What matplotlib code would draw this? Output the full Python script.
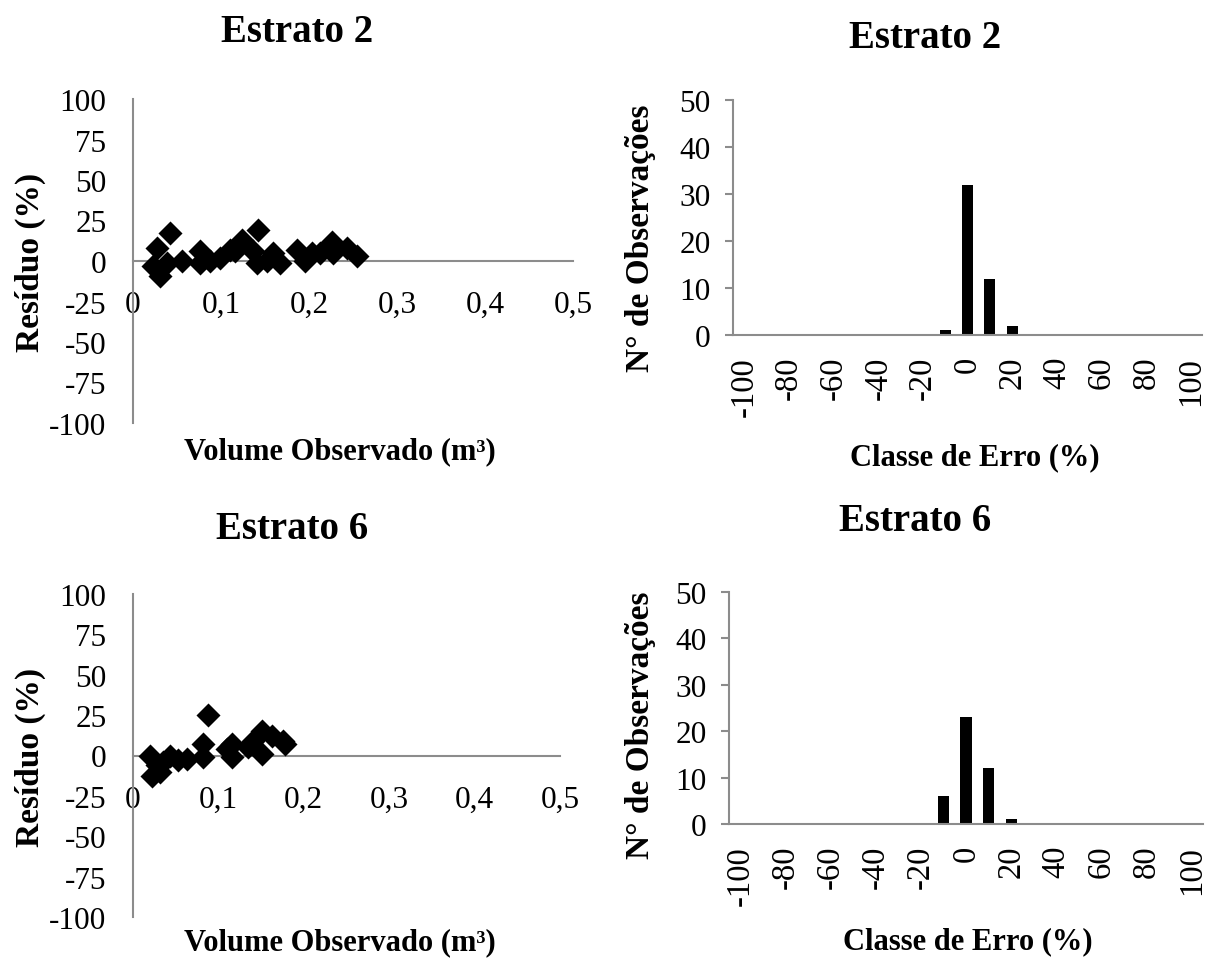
import numpy as np
import matplotlib
matplotlib.use("Agg")
import matplotlib.pyplot as plt

plt.rcParams['font.family'] = ['Liberation Serif', 'DejaVu Serif']
plt.rcParams['axes.unicode_minus'] = False

# residuals - Estrato 2
vol_e2 = [0.023, 0.027, 0.031, 0.039, 0.042, 0.056, 0.076, 0.076, 0.088, 0.099,
          0.110, 0.116, 0.124, 0.136, 0.141, 0.142, 0.152, 0.159, 0.167, 0.186,
          0.195, 0.203, 0.212, 0.226, 0.227, 0.243, 0.255]
res_e2 = [-3, 8, -9, -1, 17, 0, 6, -1, 0, 2,
          7, 6, 13, 6, -1, 19, 0, 5, -1, 7,
          0, 5, 5, 12, 5, 8, 3]

# residuals - Estrato 6
vol_e6 = [0.020, 0.022, 0.028, 0.032, 0.035, 0.043, 0.053, 0.063, 0.082, 0.082,
          0.088, 0.110, 0.116, 0.116, 0.135, 0.141, 0.151, 0.151, 0.163, 0.176, 0.178]
res_e6 = [0, -13, -6, -10, -4, 0, -3, -2, 7, -1,
          25, 4, 7, -1, 5, 9, 1, 15, 12, 9, 7]

# error classes
classes = list(range(-100, 101, 10))
cnt_e2 = [0]*9 + [1, 32, 12, 2] + [0]*8
cnt_e6 = [0]*9 + [6, 23, 12, 1] + [0]*8

gray = '#8c8c8c'
W, H = 1216, 962
fig = plt.figure(figsize=(W/100, H/100), dpi=100)


def rect(l, r, t, b):
    return [l/W, 1 - b/H, (r - l)/W, (b - t)/H]


def scatter_panel(box, x, y):
    ax = fig.add_axes(rect(*box))
    ax.scatter(x, y, marker='D', s=150, color='black', zorder=3, linewidths=0)
    ax.set_xlim(0, 0.5)
    ax.set_ylim(-100, 100)
    ax.spines['top'].set_visible(False)
    ax.spines['right'].set_visible(False)
    ax.spines['bottom'].set_position(('data', 0))
    for s in ['left', 'bottom']:
        ax.spines[s].set_color(gray)
        ax.spines[s].set_linewidth(1.5)
    ax.set_yticks(np.arange(-100, 101, 25))
    ax.set_xticks(np.arange(0, 0.51, 0.1))
    ax.set_xticklabels(['0', '0,1', '0,2', '0,3', '0,4', '0,5'])
    ax.tick_params(axis='y', length=0, pad=19, labelsize=22.5)
    ax.tick_params(axis='x', length=0, pad=21, labelsize=22.5)
    return ax


def hist_panel(box, counts):
    ax = fig.add_axes(rect(*box))
    pos = np.arange(len(classes))
    ax.bar(pos, counts, width=0.5, color='black')
    ax.set_xlim(-0.5, len(classes) - 0.5)
    ax.set_ylim(0, 50)
    ax.set_yticks(range(0, 51, 10))
    ax.set_xticks(pos[::2])
    ax.set_xticklabels([str(c) for c in classes[::2]], rotation=90, va='top')
    ax.spines['top'].set_visible(False)
    ax.spines['right'].set_visible(False)
    for s in ['left', 'bottom']:
        ax.spines[s].set_color(gray)
        ax.spines[s].set_linewidth(1.5)
    ax.tick_params(axis='y', length=6, width=1.5, color=gray, pad=10, labelsize=22.5)
    ax.tick_params(axis='x', length=0, pad=15, labelsize=23.5)
    return ax


scatter_panel((133, 573, 100, 424), vol_e2, res_e2)
hist_panel((733, 1202, 101, 336), cnt_e2)
scatter_panel((133, 560, 595, 918), vol_e6, res_e6)
hist_panel((729, 1203, 593, 825), cnt_e6)

tkw = dict(fontsize=28, fontweight='bold', ha='center', va='center')
fig.text(297/W, 1 - 32/H, 'Estrato 2', **tkw)
fig.text(925/W, 1 - 38/H, 'Estrato 2', **tkw)
fig.text(292/W, 1 - 530/H, 'Estrato 6', **tkw)
fig.text(915/W, 1 - 522/H, 'Estrato 6', **tkw)

xkw = dict(fontsize=22, fontweight='bold', ha='center', va='center')
ykw = dict(fontsize=24, fontweight='bold', ha='center', va='center', rotation=90)
fig.text(340/W, 1 - 452/H, 'Volume Observado (m³)', **xkw)
fig.text(340/W, 1 - 943/H, 'Volume Observado (m³)', **xkw)
fig.text(975/W, 1 - 458/H, 'Classe de Erro (%)', **xkw)
fig.text(968/W, 1 - 942/H, 'Classe de Erro (%)', **xkw)
fig.text(30/W, 1 - 262/H, 'Resíduo (%)', **ykw)
fig.text(30/W, 1 - 757/H, 'Resíduo (%)', **ykw)
fig.text(640/W, 1 - 238/H, 'N° de Observações', **ykw)
fig.text(640/W, 1 - 725/H, 'N° de Observações', **ykw)

fig.savefig('out.png', dpi=100)
